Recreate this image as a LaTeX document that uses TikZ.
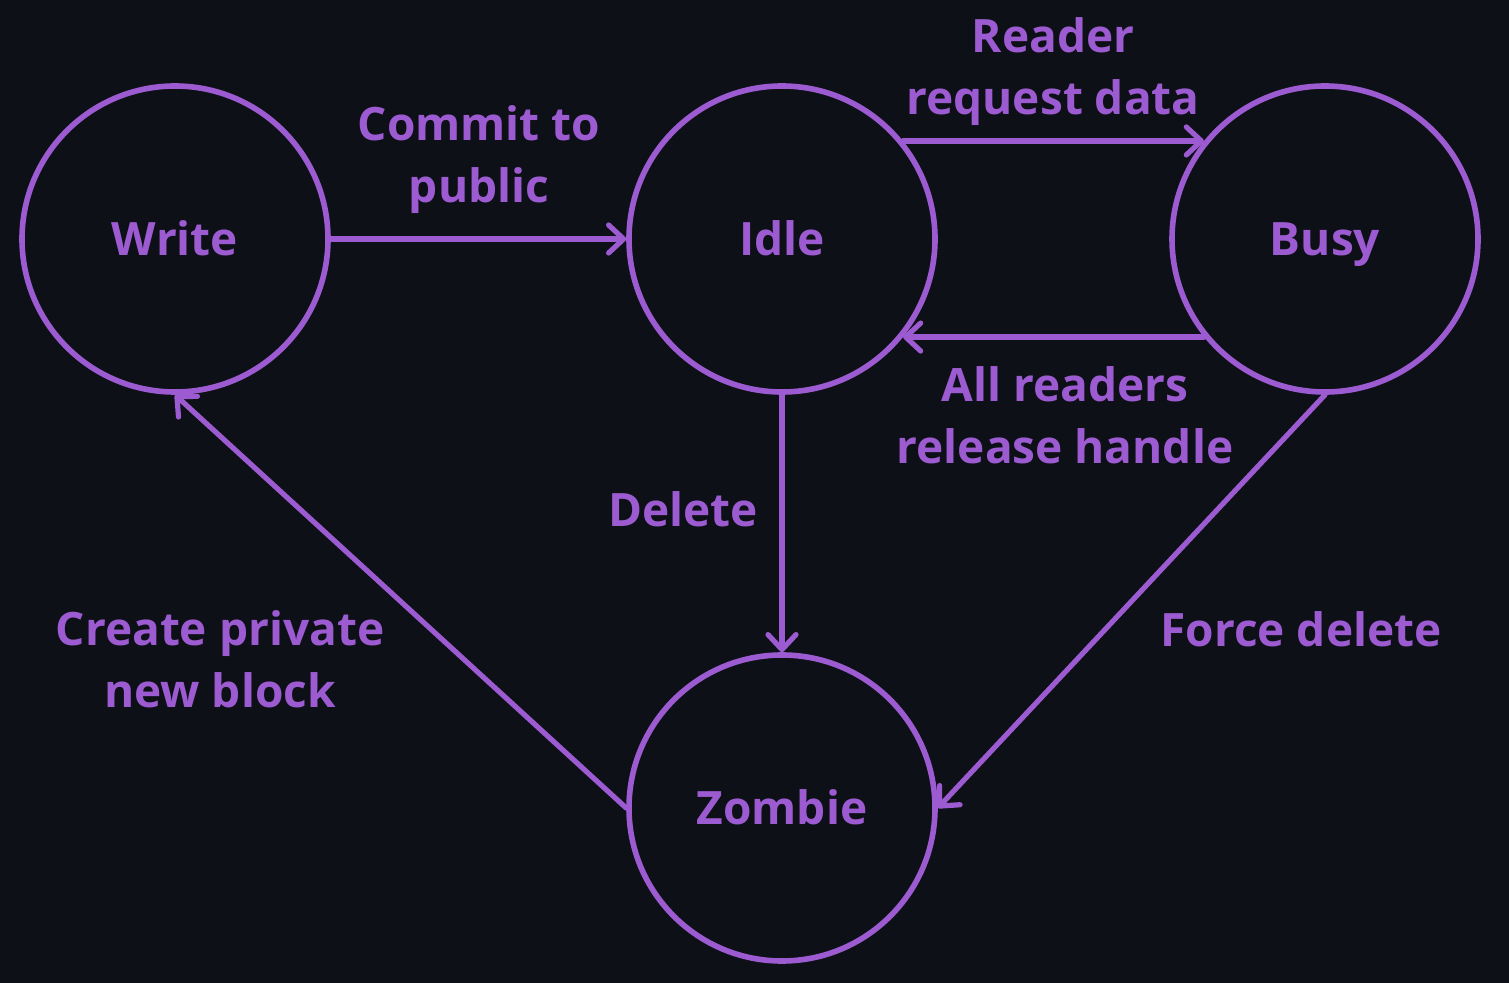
\documentclass[tikz,border=0pt]{standalone}
\usepackage{fontspec}
\setmainfont{Open Sans}
\usetikzlibrary{arrows.meta}
\definecolor{bg}{HTML}{0D1017}
\definecolor{purp}{RGB}{157,91,210}
\begin{document}
\begin{tikzpicture}[x=0.5pt,y=-0.5pt,
  state/.style={circle,draw=purp,line width=2.8pt,minimum size=153pt,inner sep=0pt,
    text=purp,text height=16.4pt,text depth=0pt,font=\fontsize{23}{28}\selectfont\bfseries},
  conn/.style={draw=purp,line width=2.6pt,line cap=round,
    -{Straight Barb[length=7.5pt,width=14pt,line width=2.6pt,round]}},
  lbl/.style={text=purp,align=center,inner sep=0pt,font=\fontsize{23}{31}\selectfont\bfseries}]
\fill[bg] (0,0) rectangle (1509,983);
\useasboundingbox (0,0) rectangle (1509,983);
\node[state] (write) at (175,239) {Write};
\node[state] (idle) at (782,239) {Idle};
\node[state] (busy) at (1325,239) {Busy};
\node[state] (zombie) at (782,808) {Zombie};
\draw[conn] (write.east) -- (idle.west);
\draw[conn] (idle.39) -- (busy.141);
\draw[conn] (busy.-141) -- (idle.-39);
\draw[conn] (idle.south) -- (zombie.north);
\draw[conn] (busy.south) -- (zombie.east);
\draw[conn] (zombie.west) -- (write.south);
\node[lbl] (l1) at (479,160) {Commit to\\public};
\node[lbl] (l2) at (1053,72) {Reader\\request data};
\node[lbl] (l3) at (1065,415) {All readers\\release handle};
\node[lbl] (l4) at (683,509) {Delete};
\node[lbl] (l5) at (220,659) {Create private\\new block};
\node[lbl] (l6) at (1301,629) {Force delete};
\end{tikzpicture}
\end{document}
